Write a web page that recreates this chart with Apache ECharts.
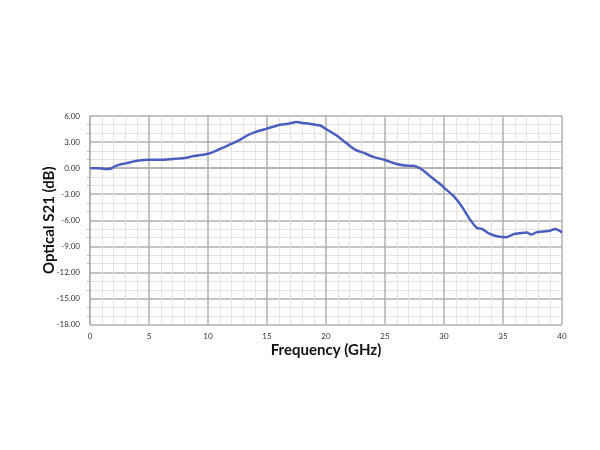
<!DOCTYPE html>
<html><head><meta charset="utf-8">
<script src="https://cdn.jsdelivr.net/npm/echarts@6/dist/echarts.min.js"></script>
<style>html,body{margin:0;padding:0;background:#fff}#c{width:600px;height:450px}</style>
</head><body><div id="c"></div>
<script>
const freqGHz = [0, 0.5, 1, 1.3, 1.7, 2.1, 2.5, 3, 3.5, 4, 5, 6, 7, 7.5, 8, 8.8, 10, 11, 11.9, 12.7, 13.3, 14, 15, 16.1, 16.8, 17.5, 18, 18.6, 19.5, 20, 20.9, 21.8, 22.5, 23.2, 24, 25, 26, 26.7, 27.4, 28, 28.8, 29.7, 30, 30.8, 31.5, 32.2, 32.8, 33.2, 33.8, 34.5, 35.3, 35.9, 36.4, 37, 37.4, 37.8, 38.4, 39, 39.4, 40];
const s21dB   = [0.0, -0.02, -0.05, -0.1, -0.08, 0.2, 0.4, 0.55, 0.7, 0.85, 0.95, 0.95, 1.05, 1.1, 1.16, 1.4, 1.65, 2.2, 2.75, 3.25, 3.75, 4.15, 4.55, 5.0, 5.1, 5.3, 5.2, 5.1, 4.9, 4.5, 3.75, 2.8, 2.1, 1.75, 1.3, 0.93, 0.47, 0.3, 0.27, -0.05, -0.9, -1.86, -2.25, -3.2, -4.4, -5.9, -6.9, -7.0, -7.5, -7.85, -7.95, -7.6, -7.5, -7.4, -7.65, -7.4, -7.3, -7.2, -7.0, -7.4];
const yTickFmt = v => v.toFixed(2);

const chart = echarts.init(document.getElementById('c'), null, {renderer: 'canvas'});
const font = 'Lato, "Open Sans", "Liberation Sans", sans-serif';
chart.setOption({
  animation: false,
  backgroundColor: '#ffffff',
  grid: {left: 90, right: 38, top: 116, bottom: 125.5, show: false},
  xAxis: {
    type: 'value', min: 0, max: 40, interval: 5,
    name: 'Frequency (GHz)', nameLocation: 'middle', nameGap: 18,
    nameTextStyle: {fontFamily: font, fontWeight: 'bold', fontSize: 15, color: '#111'},
    axisLine: {show: true, lineStyle: {color: '#b0b0b0', width: 1.5}},
    axisTick: {show: false},
    axisLabel: {fontFamily: font, fontSize: 8, color: '#333', margin: 8},
    splitLine: {show: true, lineStyle: {color: '#b0b0b0', width: 1.5}},
    minorTick: {show: false, splitNumber: 5},
    minorSplitLine: {show: true, lineStyle: {color: '#e3e3e3', width: 1}}
  },
  yAxis: {
    type: 'value', min: -18, max: 6, interval: 3,
    name: 'Optical S21 (dB)', nameLocation: 'middle', nameGap: 33, nameRotate: 90,
    nameMoveOverlap: false,
    nameTextStyle: {fontFamily: font, fontWeight: 'bold', fontSize: 15, color: '#111'},
    axisLine: {show: true, lineStyle: {color: '#b0b0b0', width: 1.5}},
    axisTick: {show: false},
    axisLabel: {fontFamily: font, fontSize: 8, color: '#333', margin: 10, formatter: yTickFmt},
    splitLine: {show: true, lineStyle: {color: '#b0b0b0', width: 1.5}},
    minorTick: {show: true, splitNumber: 3, length: 3, lineStyle: {color: '#b0b0b0'}},
    minorSplitLine: {show: true, lineStyle: {color: '#e3e3e3', width: 1}}
  },
  series: [{
    type: 'line', showSymbol: false, smooth: 0.3,
    data: freqGHz.map((f, i) => [f, s21dB[i]]),
    lineStyle: {color: '#4a5ec0', width: 2.5},
    z: 5
  }]
});
</script></body></html>
